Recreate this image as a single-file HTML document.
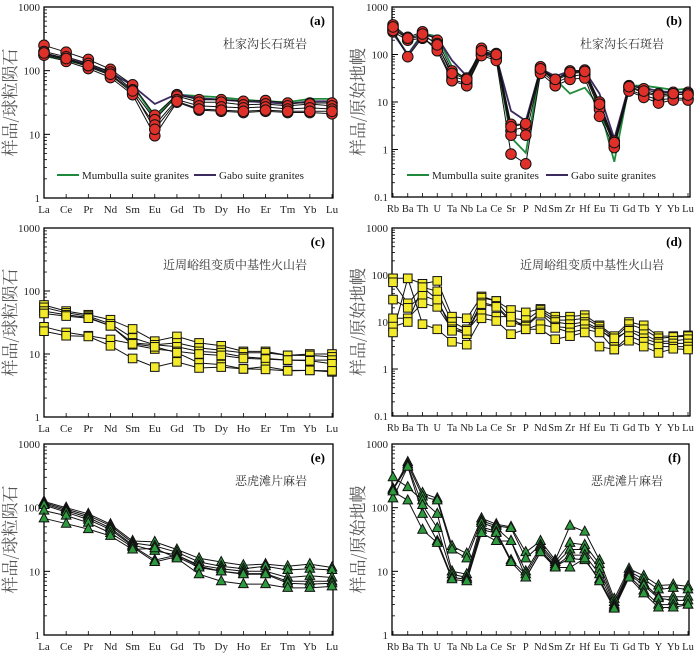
<!DOCTYPE html>
<html><head><meta charset="utf-8">
<style>
html,body{margin:0;padding:0;background:#fff;}
svg{display:block;font-family:"Liberation Serif","Noto Serif CJK SC",serif;}
</style></head>
<body>
<svg id="fig" width="700" height="655" viewBox="0 0 700 655" xmlns="http://www.w3.org/2000/svg"></svg>
<script>
// ---- categories ----
const reeCats = ["La","Ce","Pr","Nd","Sm","Eu","Gd","Tb","Dy","Ho","Er","Tm","Yb","Lu"];
const spCats = ["Rb","Ba","Th","U","Ta","Nb","La","Ce","Sr","P","Nd","Sm","Zr","Hf","Eu","Ti","Gd","Tb","Y","Yb","Lu"];
const ticksA = [1,10,100,1000];
const ticksB = [0.1,1,10,100,1000];
const tickLabelsA = ["1","10","100","1000"];
const tickLabelsB = ["0.1","1","10","100","1000"];

// ---- panel a ----
const aMumbulla = [170,145,120,90,60,18,42,40,38,35,33,32,36,36];
const aGabo = [185,155,125,95,58,30,43,37,35,33,32,30,33,33];
const aS1 = [250,195,150,105,60,20,42,35,35,33,34,31,31,31];
const aS2 = [200,165,130,95,50,17,40,32,32,29,30,28,30,28];
const aS3 = [180,150,115,85,45,14,35,28,27,26,27,25,26,25];
const aS4 = [175,140,108,78,42,9.5,32,24,23,22,23,22,22,21];
const aS5 = [190,155,120,88,48,12,33,25,24,23,24,23,23,23];
// ---- panel b ----
const bMumbulla = [300,100,280,240,55,25,120,90,1.8,0.85,50,30,15,20,8,0.55,22,22,20,18,19];
const bGabo = [280,100,260,230,75,35,110,90,6.5,4.0,50,35,45,45,15,1.7,22,20,17,16,16];
const bS1 = [420,230,300,200,45,32,135,105,3.4,3.4,55,30,45,47,10,1.5,22,19,15,16,16];
const bS2 = [350,210,250,170,35,28,110,95,2.5,3.0,48,28,40,42,8,1.3,20,16,13,14,15];
const bS3 = [300,200,220,140,30,24,100,85,2.0,2.0,45,25,35,38,7,1.2,18,14,11,12,12];
const bS4 = [320,90,230,120,28,22,95,75,0.8,0.5,40,22,30,32,5,1.1,17,12.5,9.5,11,11];
const bS5 = [380,220,270,160,40,30,120,100,3.0,3.5,50,30,42,44,9,1.4,21,17,14,15,14];
// ---- panel c ----
const cS1 = [60,48,42,35,25,16,19,15,13.5,11,11,9.5,10,10];
const cS2 = [55,45,40,30,18,14,15,12.5,11.5,10.5,10.5,9.5,9.5,9];
const cS3 = [48,42,38,28,15,14,13,11,10.5,9,8.5,8,8,8];
const cS4 = [44,40,37,28,14,12,11,10,9.5,8.5,8.3,8,7.8,7];
const cS5 = [27,22,19.5,17,14.5,13,10.5,7.2,6.8,5.8,6.3,5.5,5.5,5.2];
const cS6 = [23,19.5,19,13.5,8.5,6.2,7.5,6,6.2,5.8,5.7,5.4,5.5,5.4];
// ---- panel d ----
const dS1 = [85,85,65,75,13,12,35,28,18,16,19,13,13,14,8.5,5,10,8.5,5,5,5.2];
const dS2 = [70,25,55,45,10,7,33,28,12,11,18,11,11,12,8,4.5,9,7,4.5,4.8,5];
const dS3 = [30,20,37,28,8,6,26,22,11,8.5,16,10,9,10,7,4,7,5.5,3.8,4,4.3];
const dS4 = [12,12,25,21,7,5.5,24,21,10,8,15,8,7.5,9,6.5,4.5,6.5,4.5,3.5,3.5,3.5];
const dS5 = [8,10,55,30,6.5,6.5,15,13,13,7,9,7.5,6,7,6,2.6,5,3.8,3,3,3];
const dS6 = [6,85,9,7,3.8,3.3,12,10.5,5.5,7,7,4.3,5,6,3,2.6,4,3,2.2,2.7,2.6];
// ---- panel e ----
const eS1 = [125,100,80,55,30,29,22,16,14,12.5,13,12,13,11.5];
const eS2 = [120,95,75,52,28,25,20,14,12,11,12,10.5,11,10.5];
const eS3 = [115,90,70,48,26,21,18,12.5,11,10,10,8,8.5,8];
const eS4 = [110,85,65,45,25,15,18,12,10,9.2,9.2,7,7,7];
const eS5 = [90,75,58,40,24,14,17,11.5,10,9,9,6.5,6.3,6.5];
const eS6 = [68,56,46,36,22,23,16,9,7,6.3,6.3,5.5,5.5,5.8];
// ---- panel f ----
const fS1 = [190,520,170,140,25,19,68,55,50,20,30,15,52,42,15,3.7,11,8.5,6,6.2,5.8];
const fS2 = [200,480,150,130,22,16,62,52,48,16,26,14,28,26,13,3.3,10,7.5,5.2,5.5,5.2];
const fS3 = [300,210,130,80,10,9,58,48,30,10,24,13,22,22,11,3,9.5,6.5,4,4,4];
const fS4 = [190,450,110,48,9,8,50,42,15,9,22,12,18,18,9,2.8,9,6,3.8,3.5,3.5];
const fS5 = [140,440,80,30,8,7.5,45,40,14,8,20,12,16,15,7.5,2.7,8.5,5,3,3,3];
const fS6 = [180,130,45,28,7.5,7,40,30,30,8,20,11.5,11.5,16,7,2.6,8,4.5,2.7,2.7,3];

const NS = "http://www.w3.org/2000/svg";
const svg = document.getElementById("fig");
function mk(tag, attrs, parent){
  const e = document.createElementNS(NS, tag);
  for (const k in attrs) e.setAttribute(k, attrs[k]);
  (parent||svg).appendChild(e);
  return e;
}

function panel(p){
  const g = mk("g", {});
  
  
  const lmin = Math.log10(p.ticks[0]), lmax = Math.log10(p.ticks[p.ticks.length-1]);
  const yS = v => p.y1 - (Math.log10(v) - lmin) / (lmax - lmin) * (p.y1 - p.y0);
  const n = p.cats.length;
  const xS = i => p.px0 + i * (p.px1 - p.px0) / (n - 1);
  const fr = mk("rect", {x:p.x0, y:p.y0, width:p.x1-p.x0, height:p.y1-p.y0, fill:"none", stroke:"#000", "stroke-width":1.3}, g);
  
  
  for (let d = lmin; d <= lmax; d++){
    const y = yS(Math.pow(10,d));
    mk("line", {x1:p.x0, x2:p.x0+6, y1:y, y2:y, stroke:"#000", "stroke-width":1}, g);
    const t = mk("text", {x:p.x0-4, y:y+4, "text-anchor":"end", "font-size":11, fill:"#222"}, g);
    t.textContent = p.tickLabels[d - lmin];
    
    
    if (d < lmax) for (let m = 2; m <= 9; m++){
      const ym = yS(m * Math.pow(10,d));
      mk("line", {x1:p.x0, x2:p.x0+3, y1:ym, y2:ym, stroke:"#000", "stroke-width":0.8}, g);
    }
  }
  p.cats.forEach((c,i)=>{
    const x = xS(i);
    mk("line", {x1:x, x2:x, y1:p.y1, y2:p.y1-4, stroke:"#000", "stroke-width":0.8}, g);
    const t = mk("text", {x:x, y:p.y1+15, "text-anchor":"middle", "font-size":p.cats.length>14?10.5:11, fill:"#222"}, g);
    t.textContent = c;
    
    
  });
  const yc = (p.y0 + p.y1) / 2;
  const ytx = p.x0 - 28;
  const yt = mk("text", {x:ytx, y:yc, "text-anchor":"middle", "font-size":17, fill:"#555", transform:`rotate(-90 ${ytx} ${yc})`, "font-family":"'Noto Serif CJK SC','Noto Sans CJK SC',serif"}, g);
  yt.textContent = p.ytitle;
  
  
  const pl = mk("text", {x:p.x1-8, y:p.y0+18, "text-anchor":"end", "font-size":13, "font-weight":"bold"}, g);
  pl.textContent = "(" + p.id + ")";
  
  
  const st = mk("text", {x:p.x1-26, y:p.y0+41, "text-anchor":"end", "font-size":12, fill:"#333", "font-family":"'Noto Serif CJK SC','Noto Sans CJK SC',serif"}, g);
  st.textContent = p.subtitle;
  
  
  const clipId = "clip" + p.id;
  const cp = mk("clipPath", {id:clipId}, g);
  mk("rect", {x:p.x0-8, y:p.y0, width:p.x1-p.x0+16, height:p.y1-p.y0}, cp);
  const plot = mk("g", {"clip-path":`url(#${clipId})`}, g);
  (p.refs||[]).forEach(r=>{
    const pts = r.vals.map((v,i)=>xS(i).toFixed(1)+","+yS(v).toFixed(1)).join(" ");
    const l = mk("polyline", {points:pts, fill:"none", stroke:r.color, "stroke-width":1.8}, plot);
    
    
  });
  p.series.forEach((s,si)=>{
    const pts = s.map((v,i)=>xS(i).toFixed(1)+","+yS(v).toFixed(1)).join(" ");
    const l = mk("polyline", {points:pts, fill:"none", stroke:"#111", "stroke-width":1}, plot);
    
    
  });
  p.series.forEach((s,si)=>{
    s.forEach((v,i)=>{
      const x = xS(i), y = yS(v);
      let m;
      if (p.marker === "circle") m = mk("circle", {cx:x, cy:y, r:5.3, fill:"#e0302a", stroke:"#111", "stroke-width":1}, plot);
      else if (p.marker === "square") m = mk("rect", {x:x-4.3, y:y-4.3, width:8.6, height:8.6, fill:"#f2ea2a", stroke:"#111", "stroke-width":1}, plot);
      else m = mk("polygon", {points:`${x},${y-5.5} ${x-4.8},${y+3.5} ${x+4.8},${y+3.5}`, fill:"#2e9a3e", stroke:"#111", "stroke-width":1}, plot);
      
      
    });
  });
  if (p.legend){
    const ly = p.legend.y;
    p.legend.items.forEach(it=>{
      mk("line", {x1:it.x, x2:it.x+22, y1:ly, y2:ly, stroke:it.color, "stroke-width":2}, g);
      const t = mk("text", {x:it.x+25, y:ly+4, "font-size":11, fill:"#222", "font-family":"'Liberation Serif',serif"}, g);
      t.textContent = it.label;
      
      
    });
  }
}

const REE_T = "样品/球粒陨石", PM_T = "样品/原始地幔";
const greenC = "#1f8a3c", purpleC = "#3a2a5e";
panel({id:"a", x0:44, x1:333, y0:7, y1:198, px0:44, px1:332, cats:reeCats, ticks:ticksA, tickLabels:tickLabelsA,
  ytitle:REE_T, subtitle:"杜家沟长石斑岩", marker:"circle",
  refs:[{vals:aMumbulla,color:greenC,name:"mumbulla-line"},{vals:aGabo,color:purpleC,name:"gabo-line"}],
  series:[aS1,aS2,aS3,aS4,aS5],
  legend:{y:175, items:[{x:57,color:greenC,label:"Mumbulla suite granites"},{x:194,color:purpleC,label:"Gabo suite granites"}]}});
panel({id:"b", x0:392, x1:690, y0:7, y1:197, px0:393, px1:688, cats:spCats, ticks:ticksB, tickLabels:tickLabelsB,
  ytitle:PM_T, subtitle:"杜家沟长石斑岩", marker:"circle",
  refs:[{vals:bMumbulla,color:greenC,name:"mumbulla-line"},{vals:bGabo,color:purpleC,name:"gabo-line"}],
  series:[bS1,bS2,bS3,bS4,bS5],
  legend:{y:175, items:[{x:407,color:greenC,label:"Mumbulla suite granites"},{x:546,color:purpleC,label:"Gabo suite granites"}]}});
panel({id:"c", x0:44, x1:333, y0:228, y1:417, px0:44, px1:332, cats:reeCats, ticks:ticksA, tickLabels:tickLabelsA,
  ytitle:REE_T, subtitle:"近周峪组变质中基性火山岩", marker:"square",
  series:[cS1,cS2,cS3,cS4,cS5,cS6]});
panel({id:"d", x0:392, x1:690, y0:228, y1:416, px0:393, px1:688, cats:spCats, ticks:ticksB, tickLabels:tickLabelsB,
  ytitle:PM_T, subtitle:"近周峪组变质中基性火山岩", marker:"square",
  series:[dS1,dS2,dS3,dS4,dS5,dS6]});
panel({id:"e", x0:44, x1:333, y0:444, y1:635, px0:44, px1:332, cats:reeCats, ticks:ticksA, tickLabels:tickLabelsA,
  ytitle:REE_T, subtitle:"恶虎滩片麻岩", marker:"tri",
  series:[eS1,eS2,eS3,eS4,eS5,eS6]});
panel({id:"f", x0:392, x1:689, y0:444, y1:635, px0:393, px1:688, cats:spCats, ticks:ticksA, tickLabels:tickLabelsA,
  ytitle:PM_T, subtitle:"恶虎滩片麻岩", marker:"tri",
  series:[fS1,fS2,fS3,fS4,fS5,fS6]});
</script>
</body></html>
